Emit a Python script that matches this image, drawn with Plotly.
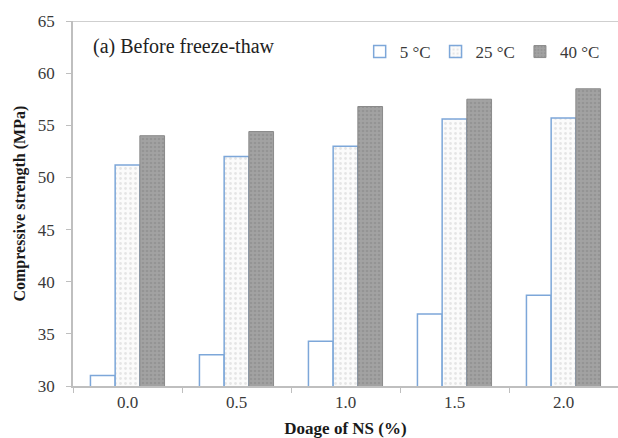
import plotly.graph_objects as go

categories = ["0.0", "0.5", "1.0", "1.5", "2.0"]
series_names = ["5 °C", "25 °C", "40 °C"]
v5 = [31.0, 33.0, 34.3, 36.9, 38.7]
v25 = [51.2, 52.0, 53.0, 55.6, 55.7]
v40 = [54.0, 54.4, 56.8, 57.5, 58.5]
y_ticks = [30, 35, 40, 45, 50, 55, 60, 65]

SERIF = "Liberation Serif, Times New Roman, serif"
BLUE = "#7DA7D9"
TXT = "#3A3A3A"

fig = go.Figure()
fig.add_trace(go.Bar(
    x=categories, y=v5, name=series_names[0],
    marker=dict(color="white", line=dict(color=BLUE, width=1.5)),
))
fig.add_trace(go.Bar(
    x=categories, y=v25, name=series_names[1],
    marker=dict(color="white", line=dict(color=BLUE, width=1.5),
                pattern=dict(shape=".", fgcolor="#CFCFCF", bgcolor="#FBFBFB", size=5, solidity=0.25)),
))
fig.add_trace(go.Bar(
    x=categories, y=v40, name=series_names[2],
    marker=dict(color="#9A9A9A", line=dict(color="#8A8A8A", width=1),
                pattern=dict(shape=".", fgcolor="#858585", bgcolor="#A2A2A2", size=4, solidity=0.35)),
))

fig.add_shape(type="line", xref="paper", yref="y", x0=0, x1=1, y0=65, y1=65,
              line=dict(color="#BFBFBF", width=1.5))

fig.add_annotation(text="(a) Before freeze-thaw", xref="paper", yref="paper",
                   x=0.033, y=0.93, xanchor="left", yanchor="middle", showarrow=False,
                   font=dict(family=SERIF, size=20, color="#222222"))

fig.add_annotation(text="<b>Compressive strength (MPa)</b>", xref="paper", yref="paper",
                   x=-0.099, y=0.5, xanchor="center", yanchor="middle", textangle=-90,
                   showarrow=False, font=dict(family=SERIF, size=16, color="#1A1A1A"))

fig.update_layout(
    width=618, height=438,
    margin=dict(l=73, r=0, t=21, b=52),
    paper_bgcolor="white", plot_bgcolor="white",
    barmode="group", bargap=0.32, bargroupgap=0,
    showlegend=True,
    legend=dict(orientation="h", x=0.526, y=0.915, xanchor="left", yanchor="middle",
                font=dict(family=SERIF, size=17, color=TXT),
                bgcolor="rgba(0,0,0,0)", itemclick=False),
    xaxis=dict(
        type="category", range=[-0.5, 4.5], tickson="boundaries",
        showline=True, linecolor="#BFBFBF", linewidth=1.5,
        ticks="outside", ticklen=5, tickcolor="#BFBFBF",
        showgrid=False, zeroline=False,
        tickfont=dict(family=SERIF, size=17, color=TXT),
        title=dict(text="<b>Doage of NS (%)</b>", standoff=13,
                   font=dict(family=SERIF, size=17, color="#1A1A1A")),
    ),
    yaxis=dict(
        range=[30, 65], tickvals=y_ticks,
        showline=True, linecolor="#BFBFBF", linewidth=1.5,
        ticks="outside", ticklen=5, tickcolor="#BFBFBF",
        ticklabelstandoff=8,
        showgrid=False, zeroline=False,
        tickfont=dict(family=SERIF, size=17, color=TXT),
    ),
)

fig.write_html("out.html")
